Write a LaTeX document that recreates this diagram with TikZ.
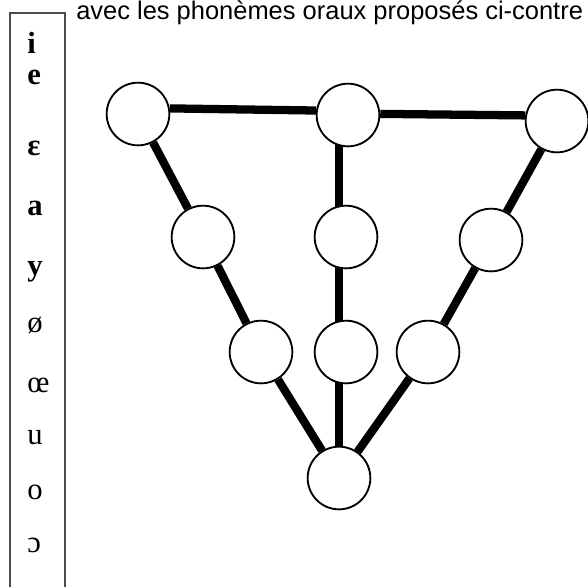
\documentclass[tikz,border=0pt]{standalone}
\usepackage{fontspec}
\setmainfont{Liberation Serif}
\newfontfamily\arialfont{Liberation Sans}
\usetikzlibrary{backgrounds}

\begin{document}
\begin{tikzpicture}[x=0.75pt,y=-0.75pt,
  vow/.style={circle, draw, line width=1.4pt, fill=white, minimum size=47pt, inner sep=0pt},
  link/.style={line width=6.2pt},
  ph/.style={anchor=base west, inner sep=0pt, font=\fontsize{23}{27}\selectfont\bfseries},
  phr/.style={ph, font=\fontsize{23}{27}\selectfont\mdseries}]
\useasboundingbox (0,0) rectangle (588,587);
% column of phonemes
\draw[black!70, line width=1pt] (10,587) -- (10,13) -- (65,13) -- (65,587);
\node[anchor=base west, inner sep=0pt, font=\arialfont\fontsize{19.1}{23}\selectfont] (title) at (76,19.5) {avec les phonèmes oraux proposés ci-contre};
\node[ph] (p1) at (27,53) {i};
\node[ph] (p2) at (27,84) {e};
\node[ph] (p3) at (27,155) {ε};
\node[ph] (p4) at (27,215) {a};
\node[ph] (p5) at (27,275) {y};
\node[phr] (p6) at (27,332) {ø};
\node[phr] (p7) at (27,392) {œ};
\node[phr] (p8) at (27,444) {u};
\node[phr] (p9) at (27,499) {o};
\node[phr] (p10) at (27,552) {ɔ};
% trapeze
\node[vow] (tl) at (138,114) {};
\node[vow] (tm) at (348,115) {};
\node[vow] (tr) at (557,121) {};
\node[vow] (l2) at (203,237) {};
\node[vow] (m2) at (346,237) {};
\node[vow] (r2) at (491,240) {};
\node[vow] (l3) at (261,352) {};
\node[vow] (m3) at (346,352) {};
\node[vow] (r3) at (428,352) {};
\node[vow] (bot) at (339,478) {};
\begin{scope}[on background layer]
\draw[link] (tl.10) -- (tm.172);
\draw[link] (tm.2) -- (tr.170);
\draw[link] (tl) -- (l2) -- (l3) -- (bot);
\draw[link] (tr) -- (r2) -- (r3) -- (bot);
\draw[link] (bot |- tm) -- (bot);
\end{scope}
\end{tikzpicture}
\end{document}
